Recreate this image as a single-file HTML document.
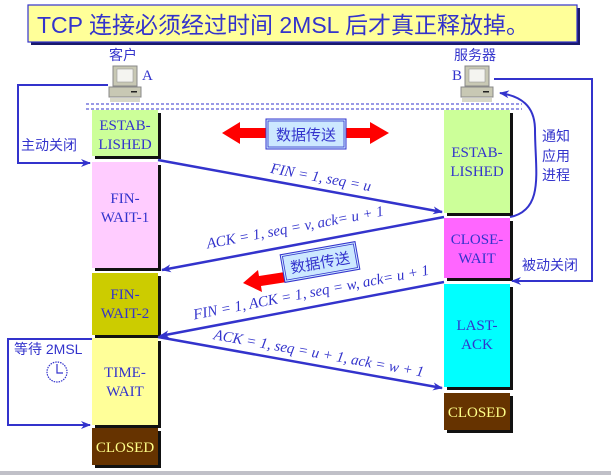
<!DOCTYPE html>
<html><head><meta charset="utf-8"><style>
html,body{margin:0;padding:0;background:#fff;width:611px;height:475px;overflow:hidden}
svg{display:block}
text{font-family:"Liberation Serif","Noto Serif CJK SC",serif;fill:#3333cc}
.cj{font-family:"Liberation Sans","Noto Sans CJK SC",sans-serif}
</style></head><body>
<svg width="611" height="475" viewBox="0 0 611 475" xmlns="http://www.w3.org/2000/svg">
<defs>
<marker id="ar" markerWidth="10" markerHeight="8" refX="9" refY="4" orient="auto" markerUnits="userSpaceOnUse">
<path d="M0,0 L10,4 L0,8 L3,4 z" fill="#3333cc"/></marker>
<g id="pc">
<rect x="4" y="0" width="24" height="20" fill="#c8c8b4" stroke="#888" stroke-width="1"/>
<rect x="8" y="3" width="16" height="13" fill="#f4f4f0" stroke="#999" stroke-width="0.6"/>
<rect x="0" y="21" width="32" height="10" fill="#c8c8b4" stroke="#888" stroke-width="1"/>
<rect x="22" y="25" width="6" height="1.5" fill="#222"/>
<rect x="1" y="32" width="30" height="4" fill="#d8d8c8"/>
</g>
</defs>
<!-- title -->
<rect x="31" y="8" width="549" height="37" fill="#1a1a6a"/>
<rect x="28" y="5" width="549" height="37" fill="#ffff99" stroke="#3333cc" stroke-width="1.2"/>
<text x="37" y="33" class="cj" font-size="23" style="fill:#3333cc">TCP 连接必须经过时间 2MSL 后才真正释放掉。</text>
<!-- labels -->
<text x="109" y="60" class="cj" font-size="14">客户</text>
<text x="454" y="60" class="cj" font-size="14">服务器</text>
<use href="#pc" x="109" y="66"/>
<use href="#pc" x="461" y="66"/>
<text x="142" y="80" font-size="15">A</text>
<text x="452" y="80" font-size="15">B</text>
<!-- dashed -->
<line x1="86" y1="104" x2="522" y2="104" stroke="#3333cc" stroke-dasharray="3,2" stroke-width="1"/>
<line x1="86" y1="109" x2="522" y2="109" stroke="#3333cc" stroke-dasharray="3,2" stroke-width="1"/>
<!-- left column -->
<g stroke="none">
<rect x="95" y="113" width="66" height="46" fill="#111"/><rect x="92" y="110" width="66" height="46" fill="#ccff99"/>
<rect x="95" y="165" width="66" height="106" fill="#111"/><rect x="92" y="162" width="66" height="106" fill="#ffccff"/>
<rect x="95" y="276" width="66" height="62" fill="#111"/><rect x="92" y="273" width="66" height="62" fill="#cccc00"/>
<rect x="95" y="341" width="66" height="87" fill="#111"/><rect x="92" y="338" width="66" height="87" fill="#ffff99"/>
<rect x="95" y="431" width="66" height="37" fill="#111"/><rect x="92" y="428" width="66" height="37" fill="#663300"/>
<!-- right -->
<rect x="447" y="113" width="66" height="103" fill="#111"/><rect x="444" y="110" width="66" height="103" fill="#ccff99"/>
<rect x="447" y="221" width="66" height="60" fill="#111"/><rect x="444" y="218" width="66" height="60" fill="#ff66ff"/>
<rect x="447" y="287" width="66" height="103" fill="#111"/><rect x="444" y="284" width="66" height="103" fill="#00ffff"/>
<rect x="447" y="396" width="66" height="37" fill="#111"/><rect x="444" y="393" width="66" height="37" fill="#663300"/>
</g>
<g font-size="15" text-anchor="middle">
<text x="125" y="130">ESTAB-</text><text x="125" y="149">LISHED</text>
<text x="125" y="203">FIN-</text><text x="125" y="222">WAIT-1</text>
<text x="125" y="299">FIN-</text><text x="125" y="318">WAIT-2</text>
<text x="125" y="377">TIME-</text><text x="125" y="396">WAIT</text>
<text x="125" y="452" style="fill:#ffff88">CLOSED</text>
<text x="477" y="157">ESTAB-</text><text x="477" y="176">LISHED</text>
<text x="477" y="244">CLOSE-</text><text x="477" y="263">WAIT</text>
<text x="477" y="330">LAST-</text><text x="477" y="349">ACK</text>
<text x="477" y="417" style="fill:#ffff88">CLOSED</text>
</g>
<!-- loops -->
<g fill="none" stroke="#3333cc" stroke-width="2">
<polyline points="108,85 18,85 18,163 90,163" marker-end="url(#ar)"/>
<polyline points="494,79 592,79 592,281 512,281" marker-end="url(#ar)"/>
<path d="M510,217 C545,210 535,170 535,130 C535,105 520,96 500,93" marker-end="url(#ar)"/>
<polyline points="92,339 8,339 8,425 90,425" marker-end="url(#ar)"/>
</g>
<g class="cj" font-size="14">
<text x="21" y="150" class="cj">主动关闭</text>
<text x="542" y="141" class="cj">通知</text>
<text x="542" y="161" class="cj">应用</text>
<text x="542" y="180" class="cj">进程</text>
<text x="522" y="270" class="cj">被动关闭</text>
<text x="14" y="354" class="cj">等待 2MSL</text>
</g>
<circle cx="57" cy="372" r="10" fill="#fff" stroke="#3333cc" stroke-width="1.2" stroke-dasharray="1.5,1"/>
<polyline points="57,364 57,373 63,373" fill="none" stroke="#3333cc" stroke-width="1.2"/>
<!-- data transfer 1 -->
<path d="M222,133 L240,122 L240,128 L370,128 L370,122 L389,133 L370,144 L370,138 L240,138 L240,144 z" fill="#ff0000"/>
<rect x="266" y="119" width="80" height="30" fill="#cce8ff" stroke="#3333cc" stroke-width="1"/>
<rect x="268" y="121" width="76" height="26" fill="none" stroke="#3333cc" stroke-width="0.8"/>
<text x="306" y="140" class="cj" font-size="15" text-anchor="middle">数据传送</text>
<!-- messages -->
<g stroke="#3333cc" stroke-width="2.5" fill="none">
<line x1="158" y1="160" x2="442" y2="212" marker-end="url(#ar)"/>
<line x1="444" y1="217" x2="162" y2="270" marker-end="url(#ar)"/>
<line x1="444" y1="282" x2="160" y2="336" marker-end="url(#ar)"/>
<line x1="158" y1="337" x2="442" y2="388" marker-end="url(#ar)"/>
</g>
<g font-size="15" font-style="italic" text-anchor="middle">
<text transform="translate(320,182) rotate(10.4)">FIN = 1, seq = u</text>
<text transform="translate(296,232) rotate(-10.6)">ACK = 1, seq = v, ack= u + 1</text>
<text transform="translate(312,297) rotate(-10.8)">FIN = 1, ACK = 1, seq = w, ack= u + 1</text>
<text transform="translate(318,358) rotate(10.2)">ACK = 1, seq = u + 1, ack = w + 1</text>
</g>
<!-- data transfer 2 -->
<path d="M243,283 L258,270 L259,276 L285,272 L287,282 L261,286 L262,292 z" fill="#ff0000"/>
<g transform="translate(320,262) rotate(-10)">
<rect x="-38" y="-14" width="76" height="28" fill="#cce8ff" stroke="#3333cc" stroke-width="1"/>
<rect x="-36" y="-12" width="72" height="24" fill="none" stroke="#3333cc" stroke-width="0.8"/>
<text x="0" y="6" class="cj" font-size="15" text-anchor="middle">数据传送</text>
</g>
<rect x="0" y="471" width="611" height="4" fill="#c0c0c8"/>
</svg>
</body></html>
